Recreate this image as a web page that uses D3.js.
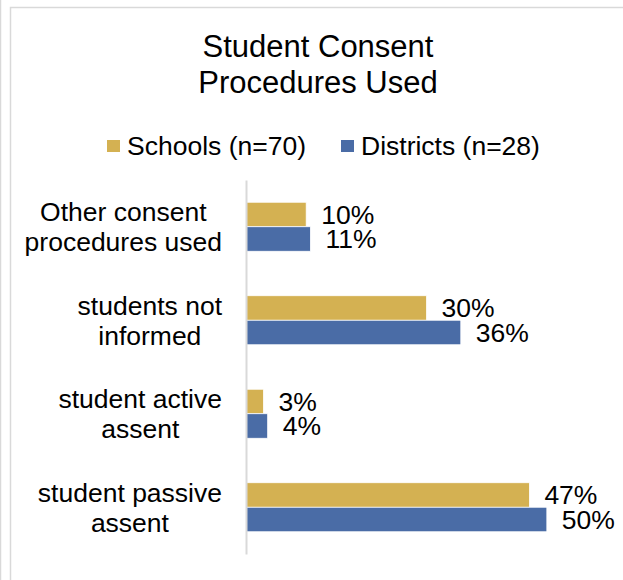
<!DOCTYPE html>
<html>
<head>
<meta charset="utf-8">
<script src="https://cdn.jsdelivr.net/npm/d3@7/dist/d3.min.js"></script>
<style>
  html, body { margin: 0; padding: 0; background: #fff; }
  svg { display: block; font-family: "Liberation Sans", Arial, sans-serif; }
</style>
</head>
<body>
<script>
const titleLines = ["Student Consent", "Procedures Used"];
const categories = [
  "Other consent\nprocedures used",
  "students not\ninformed",
  "student active\nassent",
  "student passive\nassent"
];
const seriesNames = ["Schools (n=70)", "Districts (n=28)"];
const schoolsValues = [0.10, 0.30, 0.029, 0.471];
const districtsValues = [0.107, 0.357, 0.036, 0.50];
const seriesColors = ["#D4B152", "#4A6CA6"];

const W = 623, H = 580;
const FS = 26.5;
const svg = d3.select("body").append("svg").attr("width", W).attr("height", H);

// frame lines
svg.append("line").attr("x1", 0.5).attr("x2", 0.5).attr("y1", 0).attr("y2", H)
  .attr("stroke", "#d9d9d9").attr("stroke-width", 1.5);
svg.append("path").attr("d", `M10.5,${H} V7.5 H${W}`)
  .attr("fill", "none").attr("stroke", "#d9d9d9").attr("stroke-width", 1.5);

// title
svg.append("text").attr("x", 318).attr("y", 57).attr("text-anchor", "middle")
  .attr("font-size", 31).attr("fill", "#000")
  .selectAll("tspan").data(titleLines).join("tspan")
  .attr("x", 318).attr("dy", (d, i) => i === 0 ? 0 : 36).text(d => d);

// scales
const x = d3.scaleLinear().domain([0, 0.6]).range([246, 607]);
const y = d3.scaleBand().domain(categories).range([180, 554])
  .paddingInner(0.476).paddingOuter(0.238);
const ys = d3.scaleBand().domain(seriesNames).range([0, y.bandwidth()]);
const color = d3.scaleOrdinal().domain(seriesNames).range(seriesColors);

const data = categories.map((c, i) => ({
  cat: c,
  vals: [
    { s: seriesNames[0], v: schoolsValues[i] },
    { s: seriesNames[1], v: districtsValues[i] }
  ]
}));

// legend
const legendItems = [{ name: seriesNames[0], x: 107 }, { name: seriesNames[1], x: 341 }];
const lg = svg.append("g");
legendItems.forEach(it => {
  lg.append("rect").attr("x", it.x).attr("y", 140).attr("width", 13).attr("height", 12)
    .attr("fill", color(it.name));
  lg.append("text").attr("x", it.x + 20).attr("y", 146).attr("dy", "0.35em")
    .attr("font-size", FS).attr("fill", "#000").text(it.name);
});

// bars
const groups = svg.append("g").selectAll("g").data(data).join("g")
  .attr("transform", d => `translate(0,${y(d.cat)})`);
groups.selectAll("rect").data(d => d.vals).join("rect")
  .attr("x", x(0))
  .attr("y", d => ys(d.s))
  .attr("width", d => x(d.v) - x(0))
  .attr("height", ys.bandwidth())
  .attr("fill", d => color(d.s))
  .attr("stroke", "#ffffff").attr("stroke-width", 0.75);

// value labels
const fmt = d3.format(".0%");
groups.selectAll("text.val").data(d => d.vals).join("text")
  .attr("class", "val")
  .attr("x", d => x(d.v) + 15)
  .attr("y", d => ys(d.s) + ys.bandwidth() / 2)
  .attr("dy", "0.35em")
  .attr("font-size", FS).attr("fill", "#000")
  .text(d => fmt(d.v));

// axis line
const yAxis = d3.axisLeft(y).tickSize(0).tickFormat("");
const ag = svg.append("g").attr("transform", `translate(${x(0)},0)`).call(yAxis);
ag.select(".domain").attr("stroke", "#d9d9d9").attr("stroke-width", 2);

// category labels: multi-line, lines centred within a block right-aligned
const labelRight = 222;
const lineH = 30;
categories.forEach(c => {
  const lines = c.split("\n");
  const g = svg.append("g");
  const texts = lines.map((ln, i) => g.append("text")
    .attr("y", y(c) + y.bandwidth() / 2 + (i - (lines.length - 1) / 2) * lineH)
    .attr("dy", "0.35em").attr("font-size", FS).attr("fill", "#000")
    .attr("text-anchor", "middle").text(ln));
  const maxW = d3.max(texts, t => t.node().getComputedTextLength());
  texts.forEach(t => t.attr("x", labelRight - maxW / 2));
});
</script>
</body>
</html>
